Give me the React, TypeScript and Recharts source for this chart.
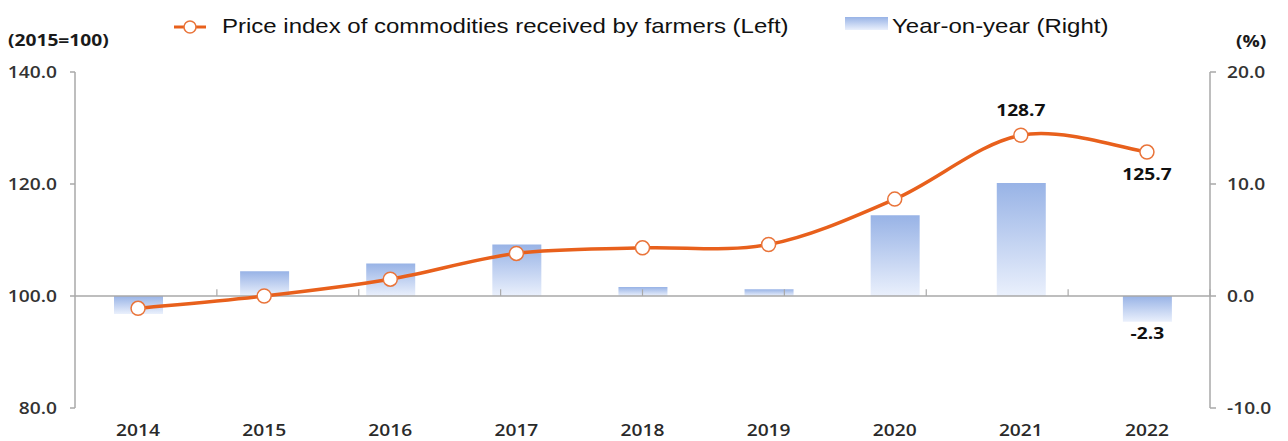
import React from 'react';
import { ComposedChart, Bar, Line, XAxis, YAxis, ReferenceLine, LabelList } from 'recharts';

const years = ['2014', '2015', '2016', '2017', '2018', '2019', '2020', '2021', '2022'];
const priceIndex = [97.8, 100.0, 103.0, 107.6, 108.6, 109.2, 117.3, 128.7, 125.7];
const yoyChange = [-1.6, 2.2, 2.9, 4.6, 0.8, 0.6, 7.2, 10.1, -2.3];
const leftTicks = [80, 100, 120, 140];
const rightTicks = [-10, 0, 10, 20];
// category boundaries (between years) where the small ticks sit on the zero line
const boundaries = [1, 2, 3, 4, 5, 6, 7, 8];
const lineLabelPos: Record<string, 'above' | 'below'> = { '2021': 'above', '2022': 'below' };
const barLabelYears = ['2022'];

const ORANGE = '#E8601C';
const AXIS = '#A9A9A9';
const SX = 'scale(1.2,1)';

const data = years.map((year, i) => ({ year, index: priceIndex[i], yoy: yoyChange[i] }));

// Excel-style smoothed line (Catmull-Rom as bezier)
const excelSmooth = (context: any) => {
  let pts: [number, number][] = [];
  return {
    areaStart() {},
    areaEnd() {},
    lineStart() { pts = []; },
    point(x: number, y: number) { pts.push([+x, +y]); },
    lineEnd() {
      if (!pts.length) return;
      context.moveTo(pts[0][0], pts[0][1]);
      for (let i = 0; i < pts.length - 1; i++) {
        const p0 = pts[i - 1] || pts[i];
        const p1 = pts[i];
        const p2 = pts[i + 1];
        const p3 = pts[i + 2] || p2;
        context.bezierCurveTo(
          p1[0] + (p2[0] - p0[0]) / 6, p1[1] + (p2[1] - p0[1]) / 6,
          p2[0] - (p3[0] - p1[0]) / 6, p2[1] - (p3[1] - p1[1]) / 6,
          p2[0], p2[1]
        );
      }
    },
  };
};

const tickText = { fontSize: 16, fill: '#333', fontFamily: 'Open Sans', fontWeight: 600 };

const LeftTick = ({ x, y, payload }: any) => (
  <g transform={`translate(${x},${y})`}>
    <text transform={SX} textAnchor="end" dy="0.35em" {...tickText}>
      {Number(payload.value).toFixed(1)}
    </text>
  </g>
);

const RightTick = ({ x, y, payload }: any) => (
  <g transform={`translate(${x},${y})`}>
    <text transform={SX} textAnchor="start" dy="0.35em" {...tickText}>
      {Number(payload.value).toFixed(1)}
    </text>
  </g>
);

const YearTick = ({ x, y, payload }: any) => (
  <g transform={`translate(${x},${y})`}>
    <text transform={SX} textAnchor="middle" dy="0.35em" {...tickText} fill="#2a2a2a">
      {payload.value}
    </text>
  </g>
);

const LineLabel = ({ x, y, index }: any) => {
  const pos = lineLabelPos[years[index]];
  if (!pos) return null;
  return (
    <g transform={`translate(${x},${pos === 'above' ? y - 25 : y + 22})`}>
      <text transform={SX} textAnchor="middle" dy="0.35em" fontSize={16} fontWeight="bold" fill="#111" fontFamily="Open Sans">
        {priceIndex[index].toFixed(1)}
      </text>
    </g>
  );
};

const BarLabel = ({ x, y, width, height, index }: any) => {
  if (!barLabelYears.includes(years[index])) return null;
  const bottom = Math.max(y, y + height);
  return (
    <g transform={`translate(${x + width / 2},${bottom + 12})`}>
      <text transform={SX} textAnchor="middle" dy="0.35em" fontSize={16} fontWeight="bold" fill="#111" fontFamily="Open Sans">
        {yoyChange[index].toFixed(1)}
      </text>
    </g>
  );
};

export default function App() {
  return (
    <div style={{ position: 'fixed', left: 0, top: 0, width: 1288, height: 441, background: '#fff' }}>
      <ComposedChart width={1288} height={441} data={data} margin={{ top: 72, right: 0, bottom: 0, left: 0 }}>
        <defs>
          <linearGradient id="barGrad" x1="0" y1="0" x2="0" y2="1">
            <stop offset="0" stopColor="#98B3E6" />
            <stop offset="1" stopColor="#EAF0FC" />
          </linearGradient>
        </defs>
        <XAxis dataKey="year" axisLine={false} tickLine={false} height={33} tickSize={0} tickMargin={22} interval={0} tick={<YearTick />} />
        <XAxis xAxisId="grid" type="number" domain={[0, years.length]} allowDataOverflow hide />
        <YAxis
          yAxisId="left"
          domain={[80, 140]}
          ticks={leftTicks}
          width={75}
          stroke={AXIS}
          strokeWidth={1.5}
          tickSize={5}
          tickMargin={13}
          tick={<LeftTick />}
        />
        <YAxis
          yAxisId="right"
          orientation="right"
          domain={[-10, 20]}
          ticks={rightTicks}
          width={78}
          stroke={AXIS}
          strokeWidth={1.5}
          tickSize={6}
          tickMargin={11}
          tick={<RightTick />}
        />
        <ReferenceLine yAxisId="right" y={0} stroke={AXIS} strokeWidth={1.5} />
        {boundaries.map((b) => (
          <ReferenceLine
            key={b}
            xAxisId="grid"
            yAxisId="right"
            segment={[{ x: b, y: 0 }, { x: b, y: 0.6 }]}
            stroke={AXIS}
            strokeWidth={1.2}
          />
        ))}
        <Bar yAxisId="right" dataKey="yoy" fill="url(#barGrad)" barSize={49} isAnimationActive={false}>
          <LabelList dataKey="yoy" content={<BarLabel />} />
        </Bar>
        <Line
          yAxisId="left"
          dataKey="index"
          type={excelSmooth as any}
          stroke={ORANGE}
          strokeWidth={3.5}
          dot={{ r: 7, fill: '#fff', stroke: '#E9743A', strokeWidth: 1.5 }}
          activeDot={false}
          isAnimationActive={false}
        >
          <LabelList dataKey="index" content={<LineLabel />} />
        </Line>
      </ComposedChart>
      <svg width={1288} height={60} style={{ position: 'absolute', left: 0, top: 0 }}>
        <defs>
          <linearGradient id="legGrad" x1="0" y1="0" x2="0" y2="1">
            <stop offset="0" stopColor="#98B3E6" />
            <stop offset="1" stopColor="#EAF0FC" />
          </linearGradient>
        </defs>
        <line x1={174} y1={27} x2={206} y2={27} stroke={ORANGE} strokeWidth={3} />
        <circle cx={190} cy={27} r={6} fill="#fff" stroke="#E9743A" strokeWidth={1.5} />
        <g transform="translate(222,33)">
          <text transform={SX} fontSize={20} fill="#111" fontFamily="Liberation Sans">
            Price index of commodities received by farmers (Left)
          </text>
        </g>
        <rect x={845} y={17} width={43} height={13} fill="url(#legGrad)" />
        <g transform="translate(892,33)">
          <text transform={SX} fontSize={20} fill="#111" fontFamily="Liberation Sans">
            Year-on-year (Right)
          </text>
        </g>
        <g transform="translate(8,46)">
          <text transform={SX} fontSize={16} fontWeight="bold" fill="#1a1a1a" fontFamily="Open Sans">
            (2015=100)
          </text>
        </g>
        <g transform="translate(1236,47)">
          <text transform={SX} fontSize={16} fontWeight="bold" fill="#1a1a1a" fontFamily="Open Sans">
            (%)
          </text>
        </g>
      </svg>
    </div>
  );
}
